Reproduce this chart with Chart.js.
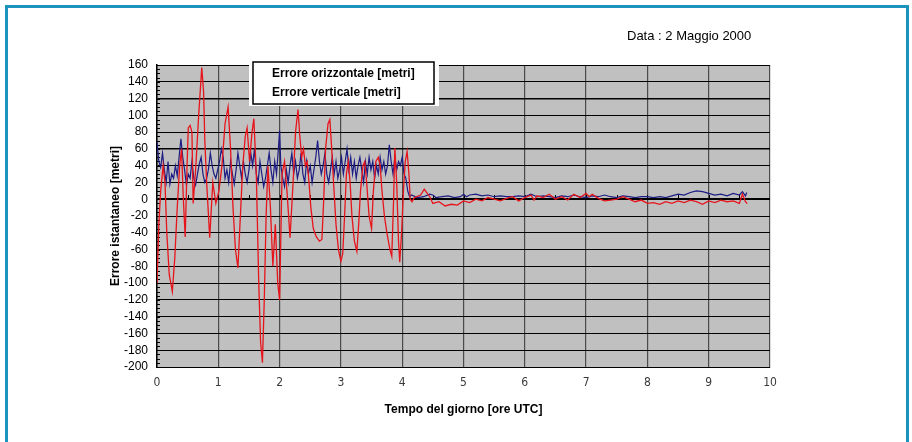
<!DOCTYPE html>
<html>
<head>
<meta charset="utf-8">
<script src="https://cdn.jsdelivr.net/npm/chart.js@4.4.1/dist/chart.umd.min.js"></script>
<style>
  html, body { margin: 0; padding: 0; background: #fff; }
  #wrap { position: relative; width: 912px; height: 442px; overflow: hidden; }
  #frame { position: absolute; left: 5px; top: 5px; width: 904px; height: 450px; border: 3px solid #1c93bd; box-sizing: border-box; }
  canvas { position: absolute; left: 0; top: 0; }
</style>
</head>
<body>
<div id="wrap">
  <div id="frame"></div>
  <canvas id="chart" width="912" height="442"></canvas>
</div>
<script>
// Data: [ora UTC, errore in metri]
const chartDate = 'Data : 2 Maggio 2000';
const seriesLabels = ['Errore orizzontale [metri]', 'Errore verticale [metri]'];

const horizontalError = [
  [0.00,68],[0.03,45],[0.06,38],[0.09,55],[0.12,35],[0.15,20],[0.18,45],[0.21,18],[0.24,30],[0.27,25],
  [0.30,40],[0.33,28],[0.36,50],[0.39,72],[0.42,50],[0.45,35],[0.48,17],[0.51,30],[0.54,25],[0.57,45],
  [0.60,25],[0.63,17],[0.66,30],[0.69,42],[0.72,50],[0.75,30],[0.78,20],[0.81,25],[0.84,36],[0.87,55],
  [0.90,40],[0.93,30],[0.96,25],[0.99,35],[1.02,45],[1.05,60],[1.08,50],[1.11,25],[1.14,35],[1.17,20],
  [1.20,45],[1.23,30],[1.26,18],[1.29,35],[1.32,55],[1.35,40],[1.38,25],[1.41,45],[1.44,30],[1.47,20],
  [1.50,35],[1.53,55],[1.56,40],[1.59,60],[1.62,30],[1.65,20],[1.68,45],[1.71,30],[1.74,15],[1.77,25],
  [1.80,40],[1.83,55],[1.86,35],[1.89,20],[1.92,45],[1.95,30],[1.98,60],[2.00,82],[2.02,40],[2.05,25],
  [2.08,15],[2.11,35],[2.14,20],[2.17,40],[2.20,55],[2.23,30],[2.26,45],[2.29,25],[2.32,35],[2.35,55],
  [2.38,30],[2.41,20],[2.44,45],[2.47,30],[2.50,40],[2.53,20],[2.56,35],[2.59,50],[2.62,70],[2.65,45],
  [2.68,30],[2.71,40],[2.74,55],[2.77,30],[2.80,20],[2.83,35],[2.86,50],[2.89,30],[2.92,45],[2.95,25],
  [2.98,35],[3.01,50],[3.04,30],[3.07,45],[3.10,60],[3.13,35],[3.16,50],[3.19,30],[3.22,45],[3.25,25],
  [3.28,40],[3.31,50],[3.34,35],[3.37,20],[3.40,45],[3.43,30],[3.46,50],[3.49,35],[3.52,45],[3.55,25],
  [3.58,40],[3.61,30],[3.64,50],[3.67,35],[3.70,45],[3.73,30],[3.76,40],[3.79,65],[3.82,45],[3.85,30],
  [3.88,50],[3.91,35],[3.94,45],[3.97,40],[4.00,50],[4.03,30],[4.06,25],[4.09,10],[4.12,3],
  [4.15,5],[4.25,2],[4.35,3],[4.45,6],[4.50,5],[4.55,2],[4.65,3],[4.75,4],[4.85,2],[4.95,3],
  [5.00,6],[5.05,3],[5.10,5],[5.20,6],[5.30,4],[5.40,5],[5.50,3],[5.60,4],[5.70,3],[5.80,3],
  [5.90,4],[6.00,3],[6.10,6],[6.20,3],[6.30,4],[6.40,3],[6.50,2],[6.60,4],[6.70,3],[6.80,5],
  [6.90,3],[7.00,2],[7.10,4],[7.20,3],[7.30,5],[7.40,3],[7.50,2],[7.60,4],[7.70,3],[7.80,2],
  [7.90,3],[8.00,3],[8.10,2],[8.20,3],[8.30,2],[8.40,4],[8.50,6],[8.60,5],[8.70,8],[8.80,10],
  [8.90,9],[9.00,7],[9.10,5],[9.20,6],[9.30,4],[9.40,7],[9.50,5],[9.55,9],[9.60,4],[9.62,8]
];

const verticalError = [
  [0.00,-100],[0.03,-30],[0.06,10],[0.10,40],[0.13,20],[0.16,-40],[0.20,-90],[0.25,-110],[0.29,-70],[0.33,-10],
  [0.37,40],[0.40,60],[0.43,0],[0.46,-45],[0.49,40],[0.51,85],[0.54,88],[0.57,80],[0.59,-5],[0.63,35],
  [0.68,100],[0.73,157],[0.76,128],[0.78,70],[0.81,20],[0.86,-46],[0.91,20],[0.96,-5],[1.01,10],[1.06,40],
  [1.11,90],[1.16,110],[1.20,60],[1.24,-10],[1.28,-60],[1.32,-82],[1.36,-20],[1.40,40],[1.44,75],[1.47,85],
  [1.51,45],[1.55,80],[1.58,96],[1.62,30],[1.66,-100],[1.69,-170],[1.72,-195],[1.75,-120],[1.78,-20],[1.81,40],
  [1.85,-10],[1.89,-80],[1.93,-30],[1.97,-100],[2.00,-120],[2.04,30],[2.08,45],[2.12,10],[2.17,-46],[2.22,20],
  [2.26,80],[2.30,107],[2.33,75],[2.36,50],[2.39,60],[2.42,40],[2.45,45],[2.48,20],[2.51,-10],[2.55,-35],
  [2.60,-45],[2.65,-50],[2.69,-48],[2.72,0],[2.75,60],[2.79,90],[2.82,95],[2.85,60],[2.88,20],[2.92,-30],
  [2.96,-60],[3.00,-74],[3.03,-65],[3.06,-20],[3.09,30],[3.12,45],[3.15,20],[3.18,-20],[3.22,-50],[3.26,-62],
  [3.29,-30],[3.32,10],[3.36,40],[3.39,45],[3.42,20],[3.46,-20],[3.50,-35],[3.53,10],[3.57,45],[3.61,50],
  [3.64,40],[3.67,10],[3.71,-20],[3.75,-40],[3.80,-60],[3.83,-68],[3.86,0],[3.88,61],[3.91,20],[3.94,-50],
  [3.96,-75],[3.99,-40],[4.02,10],[4.05,45],[4.08,57],[4.11,30],[4.13,0],[4.16,-3],
  [4.20,2],[4.30,5],[4.36,12],[4.40,8],[4.45,3],[4.50,-5],[4.60,-3],[4.70,-8],[4.80,-6],[4.90,-7],
  [5.00,-2],[5.10,-4],[5.20,0],[5.30,-2],[5.40,2],[5.50,0],[5.60,-2],[5.70,1],[5.80,3],[5.90,-2],
  [6.00,2],[6.10,5],[6.15,-1],[6.20,4],[6.30,2],[6.40,6],[6.50,0],[6.60,3],[6.70,-1],[6.80,6],
  [6.90,2],[7.00,7],[7.05,3],[7.10,6],[7.20,1],[7.30,-2],[7.40,-1],[7.50,0],[7.60,3],[7.70,0],
  [7.80,-3],[7.90,-1],[8.00,-5],[8.10,-4],[8.20,-6],[8.30,-3],[8.40,-5],[8.50,-2],[8.60,-4],[8.70,-1],
  [8.80,-3],[8.90,-6],[9.00,-2],[9.10,-4],[9.20,-1],[9.30,-3],[9.40,-2],[9.50,-5],[9.55,6],[9.60,-3],[9.63,-5]
];

const toPoints = rows => rows.map(([x, y]) => ({ x, y }));

// gray plot area
const plotBackground = {
  id: 'plotBackground',
  beforeDraw(chart) {
    const { ctx, chartArea: a } = chart;
    ctx.save();
    ctx.fillStyle = '#c0c0c0';
    ctx.fillRect(a.left, a.top, a.right - a.left, a.bottom - a.top);
    ctx.restore();
  }
};

// little Excel-style tick marks on the left axis and on the zero line
const axisMarks = {
  id: 'axisMarks',
  beforeDatasetsDraw(chart) {
    const { ctx, chartArea: a, scales } = chart;
    ctx.save();
    ctx.strokeStyle = '#000';
    ctx.lineWidth = 1;
    ctx.beginPath();
    for (let v = -200; v <= 160; v += 5) {
      const py = Math.round(scales.y.getPixelForValue(v)) + 0.5;
      ctx.moveTo(a.left, py);
      ctx.lineTo(a.left + 3, py);
    }
    const zy = Math.round(scales.y.getPixelForValue(0));
    for (let h = 0.5; h < 10; h += 0.5) {
      const px = Math.round(scales.x.getPixelForValue(h)) + 0.5;
      ctx.moveTo(px, zy);
      ctx.lineTo(px, zy - 4);
    }
    ctx.stroke();
    ctx.restore();
  }
};

// boxed legend without swatches + date caption
const boxLegend = {
  id: 'boxLegend',
  afterDraw(chart) {
    const { ctx, chartArea: a } = chart;
    const x = a.left + 96, y = a.top - 3;
    ctx.save();
    ctx.fillStyle = '#fff';
    ctx.fillRect(x - 4, y - 6, 190, 50);
    ctx.strokeStyle = '#000';
    ctx.lineWidth = 1.5;
    ctx.strokeRect(x, y, 181, 42);
    ctx.fillStyle = '#000';
    ctx.font = 'bold 12px "Liberation Sans", Arial, sans-serif';
    ctx.textBaseline = 'middle';
    chart.data.datasets.forEach((ds, i) => {
      ctx.fillText(ds.label, x + 19, y + 12 + i * 18.5);
    });
    ctx.font = '13px "Liberation Sans", Arial, sans-serif';
    ctx.fillText(chartDate, a.right - 143, 36);
    ctx.restore();
  }
};

Chart.defaults.font.family = '"Liberation Sans", Arial, sans-serif';
Chart.defaults.font.size = 12;
Chart.defaults.color = '#000';

new Chart(document.getElementById('chart'), {
  type: 'line',
  data: {
    datasets: [
      {
        label: seriesLabels[0],
        data: toPoints(horizontalError),
        borderColor: '#1c1c84',
        borderWidth: 1.2,
        pointRadius: 0,
        tension: 0,
        order: 1
      },
      {
        label: seriesLabels[1],
        data: toPoints(verticalError),
        borderColor: '#e8141c',
        borderWidth: 1.3,
        pointRadius: 0,
        tension: 0,
        order: 0
      }
    ]
  },
  options: {
    responsive: false,
    animation: false,
    layout: { padding: { left: 100, right: 142, top: 65, bottom: 0 } },
    plugins: {
      legend: { display: false },
      tooltip: { enabled: false }
    },
    scales: {
      x: {
        type: 'linear',
        min: 0,
        max: 10,
        afterFit(s) { s.height = 75; },
        ticks: {
          stepSize: 1,
          padding: 9,
          color: '#3a3a3a',
          font: { family: '"Liberation Sans Narrow", "DejaVu Sans Condensed", sans-serif', size: 12 }
        },
        grid: { color: '#4a4a4a', lineWidth: 1.2, drawTicks: false },
        border: { color: '#000', width: 1 },
        title: {
          display: true,
          text: 'Tempo del giorno [ore UTC]',
          font: { weight: 'bold', size: 12 },
          padding: { top: 4, bottom: 25 }
        }
      },
      y: {
        min: -200,
        max: 160,
        afterFit(s) { s.width = 57; },
        ticks: { stepSize: 20, padding: 9, color: '#000', autoSkip: false },
        grid: {
          color: '#000',
          drawTicks: false,
          lineWidth: c => (c.tick && c.tick.value === 0) ? 2 : ((c.tick && (c.tick.value === 60 || c.tick.value === 120)) ? 1.6 : 1)
        },
        border: { color: '#000', width: 1.5 },
        title: {
          display: true,
          text: 'Errore istantaneo [metri]',
          font: { weight: 'bold', size: 12 },
          padding: { top: 8, bottom: 0 }
        }
      }
    }
  },
  plugins: [plotBackground, axisMarks, boxLegend]
});
</script>
</body>
</html>
